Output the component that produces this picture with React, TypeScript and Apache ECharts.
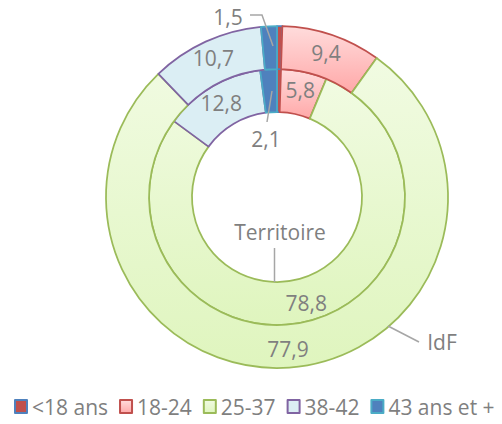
import React, { useEffect, useRef } from "react";
import * as echarts from "echarts";

const categories = ["<18 ans", "18-24", "25-37", "38-42", "43 ans et +"];
const territoireValues = [0.5, 5.8, 78.8, 12.8, 2.1];
const idfValues = [0.5, 9.4, 77.9, 10.7, 1.5];
const seriesNames = ["Territoire", "IdF"];

const grad = (a: string, b: string) =>
  new echarts.graphic.LinearGradient(0, 0, 0, 1, [
    { offset: 0, color: a },
    { offset: 1, color: b },
  ]);

const fills = [
  () => "#C0504D",
  () => grad("#FFDCDC", "#FFA8A8"),
  () => grad("#F1FBE2", "#DFF5BE"),
  () => "#DBEEF4",
  () => "#4F81BD",
];
const borders = ["#4F81BD", "#C0504D", "#9BBB59", "#8064A2", "#4BACC6"];

const fmt = (v: number) => String(v).replace(".", ",");
const TEXT = "#7F7F7F";
const LINE = "#A6A6A6";
const FONT = "'Open Sans', sans-serif";
const FS = 21;

function buildData(values: number[]) {
  return values.map((v, i) => ({
    name: categories[i],
    value: v,
    itemStyle: { color: fills[i](), borderColor: borders[i], borderWidth: 1.75 },
    label: { show: i !== 0 && i !== 4 },
  }));
}

export default function App() {
  const ref = useRef<HTMLDivElement>(null);
  useEffect(() => {
    if (!ref.current) return;
    const chart = echarts.init(ref.current, null, { renderer: "svg" });
    const labelCommon = {
      position: "inside",
      color: TEXT,
      fontSize: FS,
      fontFamily: FONT,
      formatter: (p: any) => fmt(p.value),
    };
    const txt = (x: number, y: number, text: string) => ({
      type: "text",
      x,
      y,
      style: { text, fill: TEXT, fontSize: FS, fontFamily: FONT, align: "center", verticalAlign: "middle" },
    });
    const line = (points: number[][]) => ({
      type: "polyline",
      shape: { points },
      style: { stroke: LINE, lineWidth: 1.5, fill: "none" },
      z: 10,
    });
    chart.setOption({
      animation: false,
      legend: {
        bottom: 2,
        left: 9,
        itemWidth: 12,
        itemHeight: 13,
        itemGap: 11,
        icon: "rect",
        textStyle: { color: TEXT, fontSize: FS, fontFamily: FONT, padding: [0, 0, 0, 0] },
        data: categories,
      },
      series: [
        {
          name: seriesNames[0],
          type: "pie",
          center: [277, 197],
          radius: [85, 128],
          startAngle: 90,
          clockwise: true,
          avoidLabelOverlap: false,
          label: labelCommon,
          labelLine: { show: false },
          emphasis: { disabled: true },
          data: buildData(territoireValues),
        },
        {
          name: seriesNames[1],
          type: "pie",
          center: [277, 197],
          radius: [128, 171],
          startAngle: 90,
          clockwise: true,
          avoidLabelOverlap: false,
          label: labelCommon,
          labelLine: { show: false },
          emphasis: { disabled: true },
          data: buildData(idfValues),
        },
      ],
      graphic: [
        line([[250, 15], [262, 15], [273, 46]]),
        txt(228, 17, fmt(idfValues[4])),
        line([[272, 91], [267, 122]]),
        txt(266, 139, fmt(territoireValues[4])),
        line([[274.5, 248], [274.5, 282]]),
        txt(280, 232, seriesNames[0]),
        line([[388, 326], [419, 342]]),
        txt(442, 342, seriesNames[1]),
      ],
    });
    return () => chart.dispose();
  }, []);
  return (
    <div
      ref={ref}
      style={{ position: "fixed", left: 0, top: 0, width: 502, height: 424, background: "#fff" }}
    />
  );
}
